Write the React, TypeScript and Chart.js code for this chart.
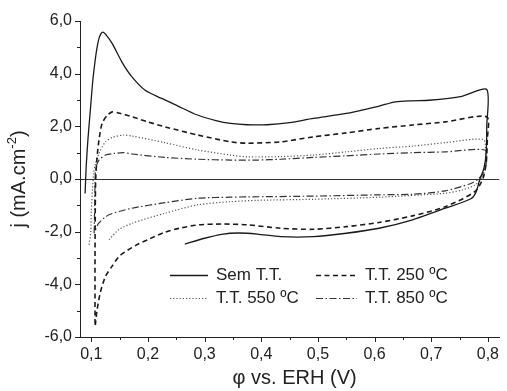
import { useEffect, useRef } from 'react';
import { Chart, registerables } from 'chart.js';

Chart.register(...registerables);

const seriesLabels = ['Sem T.T.', 'T.T. 250 ºC', 'T.T. 550 ºC', 'T.T. 850 ºC'];

const semX = [0.089, 0.091, 0.094, 0.097, 0.099, 0.102, 0.105, 0.109, 0.113, 0.117, 0.1205, 0.125, 0.137, 0.154, 0.171, 0.195, 0.224, 0.253, 0.285, 0.32, 0.346, 0.375, 0.41, 0.45, 0.492, 0.55, 0.608, 0.637, 0.667, 0.696, 0.754, 0.798, 0.798, 0.797, 0.793, 0.786, 0.779, 0.77, 0.725, 0.667, 0.608, 0.55, 0.492, 0.434, 0.393, 0.36, 0.33, 0.3, 0.265];
const semY = [-0.55, 0.5, 1.5, 2.3, 2.8, 3.6, 4.2, 4.85, 5.3, 5.52, 5.58, 5.5, 5.14, 4.44, 3.9, 3.37, 3.06, 2.77, 2.45, 2.22, 2.11, 2.06, 2.06, 2.14, 2.3, 2.49, 2.77, 2.93, 2.97, 2.99, 3.14, 3.4, 2.0, 1.0, 0.4, 0.0, -0.5, -0.75, -1.11, -1.55, -1.87, -2.06, -2.19, -2.19, -2.09, -2.05, -2.1, -2.25, -2.47];

const t250X = [0.1065, 0.1065, 0.107, 0.1077, 0.11, 0.1135, 0.119, 0.128, 0.137, 0.148, 0.172, 0.2, 0.23, 0.288, 0.346, 0.375, 0.434, 0.492, 0.55, 0.608, 0.667, 0.725, 0.798, 0.799, 0.797, 0.791, 0.777, 0.725, 0.667, 0.608, 0.55, 0.492, 0.434, 0.375, 0.33, 0.29, 0.26, 0.23, 0.2, 0.18, 0.15, 0.137, 0.125, 0.116, 0.11, 0.107];
const t250Y = [-5.5, -3.0, -1.0, 0.0, 0.8, 1.48, 2.11, 2.42, 2.55, 2.51, 2.36, 2.17, 1.98, 1.67, 1.41, 1.36, 1.41, 1.6, 1.75, 1.92, 2.05, 2.17, 2.36, 1.5, 0.6, 0.0, -0.48, -1.05, -1.4, -1.65, -1.81, -1.91, -1.87, -1.74, -1.71, -1.74, -1.85, -2.02, -2.3, -2.5, -2.92, -3.3, -3.7, -4.3, -5.0, -5.55];

const t550X = [0.096, 0.099, 0.1, 0.102, 0.104, 0.107, 0.1135, 0.125, 0.137, 0.157, 0.172, 0.23, 0.288, 0.346, 0.375, 0.434, 0.492, 0.55, 0.608, 0.667, 0.725, 0.792, 0.796, 0.795, 0.788, 0.777, 0.754, 0.725, 0.608, 0.492, 0.393, 0.346, 0.288, 0.23, 0.172, 0.148, 0.131];
const t550Y = [-2.5, -2.0, -1.2, -0.4, 0.2, 0.55, 0.97, 1.41, 1.58, 1.67, 1.63, 1.38, 1.1, 0.91, 0.84, 0.85, 0.91, 1.03, 1.16, 1.25, 1.38, 1.5, 1.0, 0.4, 0.0, -0.23, -0.42, -0.54, -0.69, -0.77, -0.81, -0.86, -0.98, -1.3, -1.68, -1.93, -2.31];

const t850X = [0.105, 0.106, 0.1065, 0.1077, 0.1135, 0.125, 0.14, 0.157, 0.172, 0.23, 0.288, 0.346, 0.393, 0.434, 0.492, 0.55, 0.608, 0.667, 0.725, 0.795, 0.797, 0.791, 0.783, 0.771, 0.725, 0.667, 0.608, 0.492, 0.375, 0.346, 0.288, 0.23, 0.172, 0.131, 0.113, 0.105];
const t850Y = [-2.06, -1.0, -0.2, 0.41, 0.72, 0.91, 0.97, 1.0, 0.95, 0.82, 0.75, 0.72, 0.72, 0.75, 0.82, 0.88, 0.95, 1.0, 1.03, 1.1, 0.6, 0.2, 0.0, -0.16, -0.45, -0.58, -0.6, -0.65, -0.68, -0.69, -0.73, -0.9, -1.11, -1.36, -1.68, -2.06];

const xTicks = [0.1, 0.2, 0.3, 0.4, 0.5, 0.6, 0.7, 0.8];
const xMinorTicks = [0.15, 0.25, 0.35, 0.45, 0.55, 0.65, 0.75];
const yTicks = [-6, -4, -2, 0, 2, 4, 6];
const yMinorTicks = [-5, -3, -1, 1, 3, 5];

const xTitle = 'φ vs. ERH (V)';
const yTitleMain = 'j (mA.cm';
const yTitleSup = '-2';
const yTitleEnd = ')';

const FONT = '"Liberation Sans", Arial, sans-serif';
const TEXT = '#222';

const zip = (xs: number[], ys: number[]) => xs.map((x, i) => ({ x, y: ys[i] }));
const fmt = (v: number) => v.toFixed(1).replace('.', ',');

const styles = [
  { color: '#1a1a1a', width: 1.3, dash: [] as number[] },
  { color: '#1a1a1a', width: 1.6, dash: [5, 3.5] },
  { color: '#555', width: 1.2, dash: [1.2, 2] },
  { color: '#333', width: 1.2, dash: [7, 2.5, 1.5, 2.5] },
];

const decor = {
  id: 'decor',
  afterDraw(chart: any) {
    const { ctx, chartArea, scales } = chart;
    const xs = scales.x;
    const ys = scales.y;
    ctx.save();
    ctx.strokeStyle = TEXT;
    ctx.lineWidth = 1;
    ctx.setLineDash([]);
    ctx.beginPath();
    const b = chartArea.bottom;
    const l = chartArea.left;
    xTicks.forEach((v) => {
      const p = Math.round(xs.getPixelForValue(v)) + 0.5;
      ctx.moveTo(p, b);
      ctx.lineTo(p, b + 5);
    });
    xMinorTicks.forEach((v) => {
      const p = Math.round(xs.getPixelForValue(v)) + 0.5;
      ctx.moveTo(p, b);
      ctx.lineTo(p, b + 3);
    });
    yTicks.forEach((v) => {
      const p = Math.round(ys.getPixelForValue(v)) + 0.5;
      ctx.moveTo(l, p);
      ctx.lineTo(l - 5, p);
    });
    yMinorTicks.forEach((v) => {
      const p = Math.round(ys.getPixelForValue(v)) + 0.5;
      ctx.moveTo(l, p);
      ctx.lineTo(l - 3, p);
    });
    ctx.stroke();

    // axis titles
    ctx.fillStyle = TEXT;
    ctx.textBaseline = 'middle';
    ctx.textAlign = 'center';
    ctx.font = `20px ${FONT}`;
    ctx.fillText(xTitle, (chartArea.left + chartArea.right) / 2 + 5, 378);

    ctx.save();
    ctx.translate(19, (chartArea.top + chartArea.bottom) / 2);
    ctx.rotate(-Math.PI / 2);
    ctx.font = `20px ${FONT}`;
    const w1 = ctx.measureText(yTitleMain).width;
    const w3 = ctx.measureText(yTitleEnd).width;
    ctx.font = `13px ${FONT}`;
    const w2 = ctx.measureText(yTitleSup).width;
    const total = w1 + w2 + w3;
    let x0 = -total / 2;
    ctx.textAlign = 'left';
    ctx.font = `20px ${FONT}`;
    ctx.fillText(yTitleMain, x0, 0);
    x0 += w1;
    ctx.font = `13px ${FONT}`;
    ctx.fillText(yTitleSup, x0, -7);
    x0 += w2;
    ctx.font = `20px ${FONT}`;
    ctx.fillText(yTitleEnd, x0, 0);
    ctx.restore();

    // legend
    const colLine = [[170, 208], [316, 357]];
    const colText = [216, 365];
    const rowY = [275, 298];
    ctx.font = `17px ${FONT}`;
    ctx.textAlign = 'left';
    chart.data.datasets.forEach((ds: any, i: number) => {
      const c = i % 2;
      const r = Math.floor(i / 2);
      const y = rowY[r];
      ctx.strokeStyle = ds.borderColor;
      ctx.lineWidth = ds.borderWidth;
      ctx.setLineDash(ds.borderDash || []);
      ctx.beginPath();
      ctx.moveTo(colLine[c][0], y + 0.5);
      ctx.lineTo(colLine[c][1], y + 0.5);
      ctx.stroke();
      ctx.setLineDash([]);
      ctx.fillStyle = TEXT;
      ctx.fillText(ds.label, colText[c], y);
    });
    ctx.restore();
  },
};

export default function App() {
  const ref = useRef<HTMLCanvasElement | null>(null);
  useEffect(() => {
    if (!ref.current) return;
    const series = [zip(semX, semY), zip(t250X, t250Y), zip(t550X, t550Y), zip(t850X, t850Y)];
    const chart = new Chart(ref.current, {
      type: 'scatter',
      data: {
        datasets: series.map((d, i) => ({
          label: seriesLabels[i],
          data: d,
          showLine: true,
          borderColor: styles[i].color,
          borderWidth: styles[i].width,
          borderDash: styles[i].dash,
          pointRadius: 0,
          pointHoverRadius: 0,
          fill: false,
          tension: 0.25,
        })),
      },
      options: {
        animation: false,
        responsive: false,
        events: [],
        layout: { padding: { top: 21, right: 0, bottom: 0, left: 0 } },
        plugins: { legend: { display: false }, tooltip: { enabled: false } },
        scales: {
          x: {
            type: 'linear',
            min: 0.08,
            max: 0.82,
            border: { display: true, color: TEXT, width: 1 },
            grid: { display: false, drawTicks: false },
            ticks: {
              padding: 8,
              color: TEXT,
              font: { family: FONT, size: 16 },
              autoSkip: false,
              maxRotation: 0,
              callback: (v: any) => fmt(Number(v)),
            },
            afterBuildTicks: (s: any) => {
              s.ticks = xTicks.map((v) => ({ value: v }));
            },
            afterFit: (s: any) => {
              s.height = 54;
            },
          },
          y: {
            type: 'linear',
            min: -6,
            max: 6,
            border: { display: true, color: TEXT, width: 1 },
            grid: {
              display: true,
              drawTicks: false,
              lineWidth: 1,
              color: (c: any) => (c.tick && c.tick.value === 0 ? '#333' : 'rgba(0,0,0,0)'),
            },
            ticks: {
              padding: 8,
              color: TEXT,
              font: { family: FONT, size: 16 },
              autoSkip: false,
              callback: (v: any) => fmt(Number(v)),
            },
            afterBuildTicks: (s: any) => {
              s.ticks = yTicks.map((v) => ({ value: v }));
            },
            afterFit: (s: any) => {
              s.width = 80;
            },
          },
        },
      },
      plugins: [decor],
    });
    return () => chart.destroy();
  }, []);
  return (
    <canvas
      ref={ref}
      width={507}
      height={391}
      style={{ position: 'absolute', left: 0, top: 0, width: 507, height: 391 }}
    />
  );
}
